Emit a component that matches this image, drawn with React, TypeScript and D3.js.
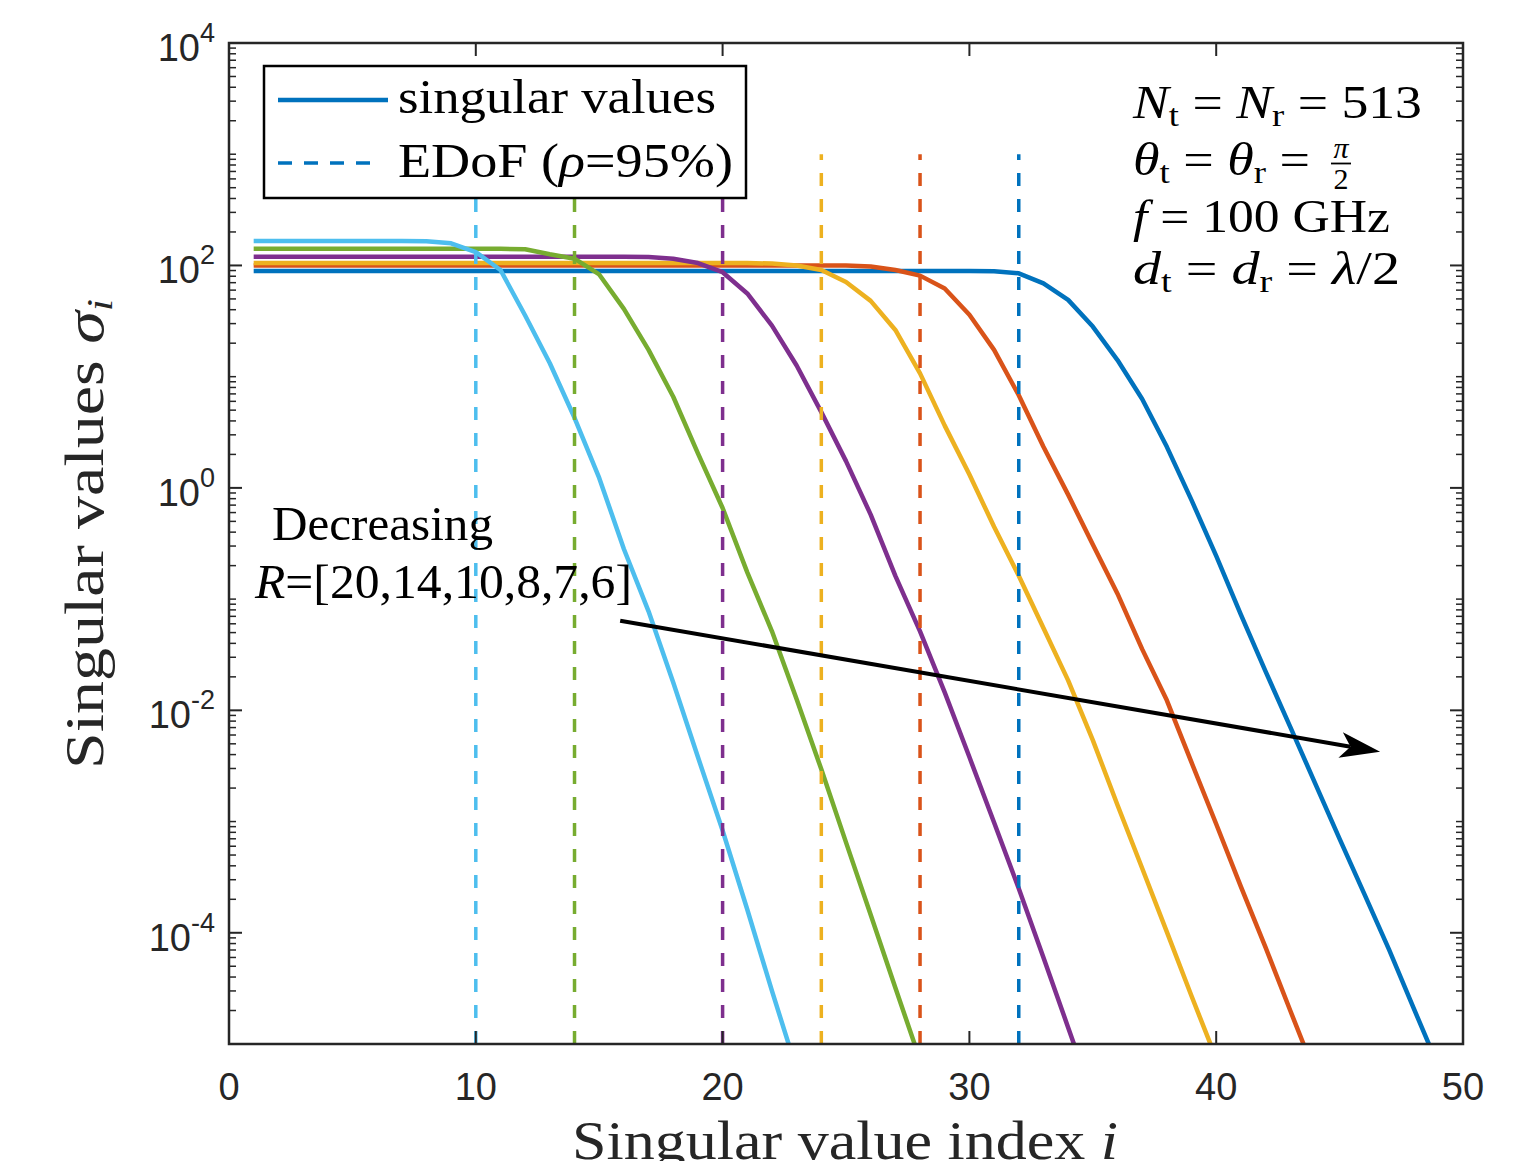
import React from "react";
import * as d3 from "d3";

// ---------- data ----------
const firstIndex = 1;
const rValues = [20, 14, 10, 8, 7, 6];
const edofIndex = [10, 14, 20, 24, 28, 32];
const seriesColors = ["#4DBEEE", "#77AC30", "#7E2F8E", "#EDB120", "#D95319", "#0072BD"];

const sigmaR20 = [166, 166, 166, 166, 166, 166, 166, 165, 158, 132, 91, 35.5, 13.2, 4.27, 1.23, 0.282, 0.0776, 0.0178, 3.8e-3, 8.3e-4, 1.62e-4, 3.0e-5, 5.9e-6];
const sigmaR14 = [141, 141, 141, 141, 141, 141, 141, 141, 141, 141, 141, 140, 126, 115, 83, 40.7, 17.4, 6.6, 2.04, 0.66, 0.174, 0.0513, 0.0126, 2.95e-3, 6.5e-4, 1.45e-4, 3.2e-5, 7.2e-6];
const sigmaR10 = [120, 120, 120, 120, 120, 120, 120, 120, 120, 120, 120, 120, 120, 120, 120, 120, 119, 115, 105, 87, 56, 28.8, 12.6, 4.8, 1.74, 0.575, 0.162, 0.0513, 0.0145, 3.8e-3, 9.8e-4, 2.5e-4, 6.0e-5, 1.41e-5, 3.3e-6];
const sigmaR8 = [105, 105, 105, 105, 105, 105, 105, 105, 105, 105, 105, 105, 105, 105, 105, 105, 105, 105, 105, 105, 105, 104, 100, 91, 71, 48, 26.3, 10.7, 3.63, 1.32, 0.447, 0.162, 0.055, 0.0186, 5.4e-3, 1.41e-3, 3.8e-4, 1.02e-4, 2.7e-5, 7.4e-6];
const sigmaR7 = [100, 100, 100, 100, 100, 100, 100, 100, 100, 100, 100, 100, 100, 100, 100, 100, 100, 100, 100, 100, 100, 100, 100, 100, 100, 98, 91, 81, 62, 36, 17.4, 6.8, 2.34, 0.87, 0.309, 0.112, 0.0355, 0.0123, 3.4e-3, 9.5e-4, 2.6e-4, 7.4e-5, 2.0e-5, 5.5e-6];
const sigmaR6 = [89, 89, 89, 89, 89, 89, 89, 89, 89, 89, 89, 89, 89, 89, 89, 89, 89, 89, 89, 89, 89, 89, 89, 89, 89, 89, 89, 89, 89, 89, 88.5, 85, 69, 49, 28.2, 14.1, 6.3, 2.34, 0.776, 0.245, 0.0724, 0.0224, 7.1e-3, 2.23e-3, 7.0e-4, 2.24e-4, 7.1e-5, 2.1e-5, 6.3e-6];

const xTickValues = [0, 10, 20, 30, 40, 50];
const yTickExponents = [4, 2, 0, -2, -4];
const edofTopValue = 1e3;
const arrowStart = [15.85, 0.064];
const arrowEnd = [46.64, 0.00424];

const SERIF = "'Liberation Serif', 'Times New Roman', serif";
const SANS = "'Liberation Sans', Arial, Helvetica, sans-serif";
const AX = "#262626";

export default function App() {
  const left = 229, right = 1463, top = 43, bottom = 1044;
  const x = d3.scaleLinear().domain([0, 50]).range([left, right]);
  const y = d3.scaleLog().domain([1e-5, 1e4]).range([bottom, top]);
  const lineGen = d3
    .line<number>()
    .x((_, i) => x(i + firstIndex))
    .y((d) => y(d));

  const series = [sigmaR20, sigmaR14, sigmaR10, sigmaR8, sigmaR7, sigmaR6];
  const drawOrder = [5, 4, 3, 2, 1, 0];

  const minorVals: number[] = [];
  for (let e = -5; e < 4; e++) {
    for (let k = 2; k <= 9; k++) minorVals.push(k * Math.pow(10, e));
    if (e % 2 !== 0 && e > -5) minorVals.push(Math.pow(10, e));
  }
  const majorY = yTickExponents.map((e) => Math.pow(10, e));
  const majLen = 13, minLen = 7;

  // arrow
  const ax0 = x(arrowStart[0]), ay0 = y(arrowStart[1]);
  const ax1 = x(arrowEnd[0]), ay1 = y(arrowEnd[1]);
  const dx = ax1 - ax0, dy = ay1 - ay0;
  const L = Math.hypot(dx, dy);
  const ux = dx / L, uy = dy / L;
  const nx = -uy, ny = ux;
  const hl = 40, hw = 13, notch = 30;
  const head = [
    [ax1, ay1],
    [ax1 - hl * ux + hw * nx, ay1 - hl * uy + hw * ny],
    [ax1 - notch * ux, ay1 - notch * uy],
    [ax1 - hl * ux - hw * nx, ay1 - hl * uy - hw * ny],
  ]
    .map((p) => p.join(","))
    .join(" ");

  const SG = "spacingAndGlyphs";

  return (
    <svg
      width={1536}
      height={1161}
      viewBox="0 0 1536 1161"
      style={{ position: "absolute", left: 0, top: 0, background: "#fff" }}
    >
      <rect x={0} y={0} width={1536} height={1161} fill="#fff" />
      <defs>
        <clipPath id="plotClip">
          <rect x={left} y={top} width={right - left} height={bottom - top} />
        </clipPath>
      </defs>

      <g clipPath="url(#plotClip)">
        {drawOrder.map((si) => (
          <path
            key={"s" + si}
            d={lineGen(series[si]) || ""}
            fill="none"
            stroke={seriesColors[si]}
            strokeWidth={4.5}
            strokeLinejoin="round"
          />
        ))}
        {drawOrder.map((si) => (
          <line
            key={"e" + si}
            x1={x(edofIndex[si])}
            x2={x(edofIndex[si])}
            y1={y(1e-5)}
            y2={y(edofTopValue)}
            stroke={seriesColors[si]}
            strokeWidth={3.5}
            strokeDasharray="13,13"
          />
        ))}
      </g>

      {/* axes box */}
      <rect x={left} y={top} width={right - left} height={bottom - top} fill="none" stroke={AX} strokeWidth={2.5} />
      {xTickValues.map((v) => (
        <g key={"xt" + v}>
          <line x1={x(v)} x2={x(v)} y1={bottom} y2={bottom - majLen} stroke={AX} strokeWidth={2} />
          <line x1={x(v)} x2={x(v)} y1={top} y2={top + majLen} stroke={AX} strokeWidth={2} />
          <text x={x(v)} y={1100} textAnchor="middle" fontFamily={SANS} fontSize={38} fill={AX}>
            {v}
          </text>
        </g>
      ))}
      {majorY.map((v) => (
        <g key={"ym" + v}>
          <line x1={left} x2={left + majLen} y1={y(v)} y2={y(v)} stroke={AX} strokeWidth={2} />
          <line x1={right} x2={right - majLen} y1={y(v)} y2={y(v)} stroke={AX} strokeWidth={2} />
        </g>
      ))}
      {minorVals.map((v, i) => (
        <g key={"yn" + i}>
          <line x1={left} x2={left + minLen} y1={y(v)} y2={y(v)} stroke={AX} strokeWidth={1.5} />
          <line x1={right} x2={right - minLen} y1={y(v)} y2={y(v)} stroke={AX} strokeWidth={1.5} />
        </g>
      ))}
      {yTickExponents.map((e) => (
        <text key={"yl" + e} x={215} y={y(Math.pow(10, e)) + 18} textAnchor="end" fontFamily={SANS} fontSize={38} fill={AX}>
          10
          <tspan dy={-19} fontSize={27}>
            {e}
          </tspan>
        </text>
      ))}

      {/* axis labels */}
      <text x={845} y={1159} textAnchor="middle" fontFamily={SERIF} fontSize={54} fill={AX} textLength={546} lengthAdjust={SG}>
        Singular value index <tspan fontStyle="italic">i</tspan>
      </text>
      <text
        transform="translate(103,534) rotate(-90)"
        textAnchor="middle"
        fontFamily={SERIF}
        fontSize={54}
        fill={AX}
        textLength={470}
        lengthAdjust={SG}
      >
        Singular values <tspan fontStyle="italic">σ</tspan>
        <tspan fontStyle="italic" fontSize={36} dy={9}>
          i
        </tspan>
      </text>

      {/* arrow annotation */}
      <line x1={ax0} y1={ay0} x2={ax1 - notch * ux} y2={ay1 - notch * uy} stroke="#000" strokeWidth={4} />
      <polygon points={head} fill="#000" />
      <text x={272} y={540} fontFamily={SERIF} fontSize={48} fill="#000" textLength={221} lengthAdjust={SG}>
        Decreasing
      </text>
      <text x={255} y={598} fontFamily={SERIF} fontSize={48} fill="#000" textLength={377} lengthAdjust={SG}>
        <tspan fontStyle="italic">R</tspan>=[{rValues.join(",")}]
      </text>

      {/* parameter text */}
      <text x={1133} y={118} fontFamily={SERIF} fontSize={47} fill="#000" textLength={289} lengthAdjust={SG}>
        <tspan fontStyle="italic">N</tspan>
        <tspan fontSize={32} dy={8}>t</tspan>
        <tspan dy={-8}> = </tspan>
        <tspan fontStyle="italic">N</tspan>
        <tspan fontSize={32} dy={8}>r</tspan>
        <tspan dy={-8}> = 513</tspan>
      </text>
      <text x={1133} y={175} fontFamily={SERIF} fontSize={47} fill="#000" textLength={177} lengthAdjust={SG}>
        <tspan fontStyle="italic">θ</tspan>
        <tspan fontSize={32} dy={8}>t</tspan>
        <tspan dy={-8}> = </tspan>
        <tspan fontStyle="italic">θ</tspan>
        <tspan fontSize={32} dy={8}>r</tspan>
        <tspan dy={-8}> =</tspan>
      </text>
      <text x={1341} y={158} textAnchor="middle" fontFamily={SERIF} fontSize={30} fontStyle="italic" fill="#000">
        π
      </text>
      <line x1={1331} x2={1351} y1={163.5} y2={163.5} stroke="#000" strokeWidth={1.8} />
      <text x={1341} y={189} textAnchor="middle" fontFamily={SERIF} fontSize={30} fill="#000">
        2
      </text>
      <text x={1133} y={232} fontFamily={SERIF} fontSize={47} fill="#000" textLength={257} lengthAdjust={SG}>
        <tspan fontStyle="italic">f</tspan> = 100 GHz
      </text>
      <text x={1133} y={284} fontFamily={SERIF} fontSize={47} fill="#000" textLength={267} lengthAdjust={SG}>
        <tspan fontStyle="italic">d</tspan>
        <tspan fontSize={32} dy={8}>t</tspan>
        <tspan dy={-8}> = </tspan>
        <tspan fontStyle="italic">d</tspan>
        <tspan fontSize={32} dy={8}>r</tspan>
        <tspan dy={-8}> = </tspan>
        <tspan fontStyle="italic">λ</tspan>/2
      </text>

      {/* legend */}
      <rect x={264} y={66} width={482} height={132} fill="#fff" stroke="#000" strokeWidth={2.5} />
      <line x1={278} x2={388} y1={100} y2={100} stroke={seriesColors[5]} strokeWidth={4.5} />
      <line x1={278} x2={382} y1={163} y2={163} stroke={seriesColors[5]} strokeWidth={3.5} strokeDasharray="14,12" />
      <text x={398} y={113} fontFamily={SERIF} fontSize={48} fill="#000" textLength={318} lengthAdjust={SG}>
        singular values
      </text>
      <text x={398} y={177} fontFamily={SERIF} fontSize={48} fill="#000" textLength={335} lengthAdjust={SG}>
        EDoF (<tspan fontStyle="italic">ρ</tspan>=95%)
      </text>
    </svg>
  );
}
